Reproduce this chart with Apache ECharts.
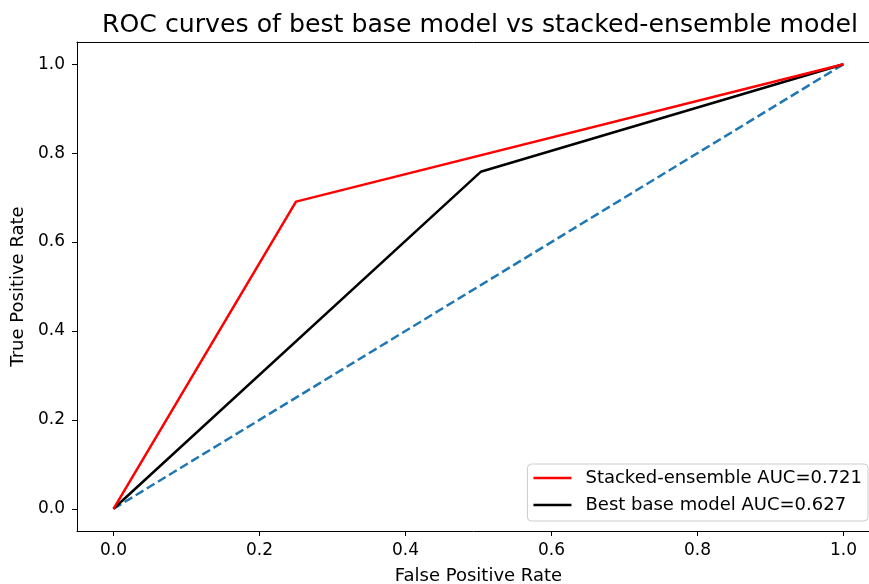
<!DOCTYPE html>
<html><head><meta charset="utf-8">
<script src="https://cdn.jsdelivr.net/npm/echarts@6/dist/echarts.min.js"></script>
<style>html,body{margin:0;padding:0;background:#fff}#c{width:869px;height:584px}</style>
</head><body><div id="c"></div>
<script>
const title = "ROC curves of best base model vs stacked-ensemble model";
const stackedFpr = [0, 0.25, 1];
const stackedTpr = [0, 0.691, 1];
const baseFpr = [0, 0.503, 1];
const baseTpr = [0, 0.758, 1];
const chanceFpr = [0, 1];
const chanceTpr = [0, 1];
const stackedName = "Stacked-ensemble AUC=0.721";
const baseName = "Best base model AUC=0.627";
const tickValues = [0, 0.2, 0.4, 0.6, 0.8, 1.0];

const zip = (a, b) => a.map((v, i) => [v, b[i]]);
const font = 'DejaVu Sans';
const chart = echarts.init(document.getElementById('c'), null, {renderer: 'canvas'});
const axisCommon = {
  type: 'value', min: -0.05, max: 1.05,
  axisLine: {show: true, onZero: false, lineStyle: {color: '#000', width: 1}},
  axisTick: {show: true, customValues: tickValues, length: 5, lineStyle: {color: '#000'}},
  axisLabel: {customValues: tickValues, formatter: v => v.toFixed(1), color: '#000', fontFamily: font, fontSize: 17},
  splitLine: {show: false},
  nameLocation: 'middle',
  nameTextStyle: {color: '#000', fontFamily: font, fontSize: 18}
};
chart.setOption({
  animation: false,
  title: {text: title, left: 475, textAlign: 'center', top: 8,
    textStyle: {fontFamily: font, fontSize: 25.2, fontWeight: 'normal', color: '#000'}},
  grid: {left: 77, width: 803, top: 42, height: 489, outerBoundsMode: 'none', containLabel: false, show: false},
  xAxis: [
    Object.assign({}, axisCommon, {name: 'False Positive Rate', nameGap: 36,
      axisLabel: Object.assign({}, axisCommon.axisLabel, {margin: 11})}),
    {type: 'value', min: -0.05, max: 1.05, position: 'top',
      axisLine: {show: true, onZero: false, lineStyle: {color: '#000', width: 1}},
      axisTick: {show: false}, axisLabel: {show: false}, splitLine: {show: false}}
  ],
  yAxis: Object.assign({}, axisCommon, {name: 'True Positive Rate', nameGap: 50,
    axisLabel: Object.assign({}, axisCommon.axisLabel, {margin: 12})}),
  legend: {
    orient: 'vertical', right: 1, top: 464,
    data: [stackedName, baseName],
    itemWidth: 38, itemHeight: 2.5, itemGap: 9,
    icon: 'rect',
    padding: [5, 6, 7, 6],
    backgroundColor: '#fff', borderColor: '#ccc', borderWidth: 1, borderRadius: 4,
    textStyle: {fontFamily: font, fontSize: 18, color: '#000', padding: [0, 0, 0, 9]}
  },
  series: [
    {name: 'chance', type: 'line', data: zip(chanceFpr, chanceTpr), showSymbol: false,
      lineStyle: {color: '#1f77b4', width: 2.5, type: [9, 4]}, z: 1},
    {name: stackedName, type: 'line', data: zip(stackedFpr, stackedTpr), showSymbol: false,
      itemStyle: {color: '#ff0000'}, lineStyle: {color: '#ff0000', width: 2.5}, z: 3},
    {name: baseName, type: 'line', data: zip(baseFpr, baseTpr), showSymbol: false,
      itemStyle: {color: '#000'}, lineStyle: {color: '#000', width: 2.5}, z: 2}
  ]
});
</script></body></html>
